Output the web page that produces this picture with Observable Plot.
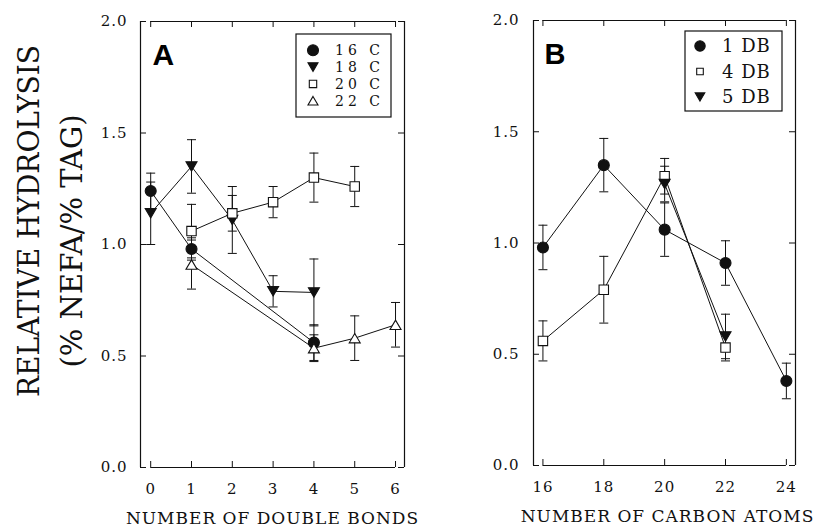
<!DOCTYPE html>
<html><head><meta charset="utf-8">
<script src="https://cdn.jsdelivr.net/npm/d3@7"></script>
<script src="https://cdn.jsdelivr.net/npm/@observablehq/plot@0.6"></script>
<style>
html,body{margin:0;padding:0;background:#fff;}
#wrap{position:relative;width:814px;height:527px;overflow:hidden;background:#fff;}
#wrap > div{position:absolute;top:0;}
</style></head><body>
<div id="wrap"><div id="pa" style="left:0px"></div><div id="pb" style="left:420px"></div></div>
<script>
// ---------- text ----------
const panelLabels = ["A", "B"];
const xTitleA = "NUMBER OF DOUBLE BONDS";
const xTitleB = "NUMBER OF CARBON ATOMS";
const yTitle1 = "RELATIVE HYDROLYSIS";
const yTitle2 = "(% NEFA/% TAG)";

// ---------- ticks ----------
const xTicksA = [0, 1, 2, 3, 4, 5, 6];
const xTicksB = [16, 18, 20, 22, 24];
const yTicks = [0.0, 0.5, 1.0, 1.5, 2.0];

// ---------- panel A: by number of double bonds ----------
const seriesA = ["16 C", "18 C", "20 C", "22 C"];
const c16X = [0, 1, 4];
const c16Y = [1.24, 0.98, 0.56];
const c16E = [0.08, 0.05, 0.08];
const c18X = [0, 1, 2, 3, 4];
const c18Y = [1.14, 1.35, 1.11, 0.79, 0.785];
const c18E = [0.14, 0.12, 0.15, 0.07, 0.15];
const c20X = [1, 2, 3, 4, 5];
const c20Y = [1.06, 1.14, 1.19, 1.30, 1.26];
const c20E = [0.12, 0.08, 0.07, 0.11, 0.09];
const c22X = [1, 4, 5, 6];
const c22Y = [0.91, 0.535, 0.58, 0.64];
const c22E = [0.11, 0.06, 0.10, 0.10];

// ---------- panel B: by number of carbon atoms ----------
const seriesB = ["1 DB", "4 DB", "5 DB"];
const db1X = [16, 18, 20, 22, 24];
const db1Y = [0.98, 1.35, 1.06, 0.91, 0.38];
const db1E = [0.10, 0.12, 0.12, 0.10, 0.08];
const db4X = [16, 18, 20, 22];
const db4Y = [0.56, 0.79, 1.30, 0.53];
const db4E = [0.09, 0.15, 0.08, 0.06];
const db5X = [20, 22];
const db5Y = [1.265, 0.58];
const db5E = [0.08, 0.10];

function rows(s, xs, ys, es) { return xs.map((x, i) => ({s, x, y: ys[i], e: es[i]})); }
const dataA = [
  ...rows(seriesA[0], c16X, c16Y, c16E),
  ...rows(seriesA[1], c18X, c18Y, c18E),
  ...rows(seriesA[2], c20X, c20Y, c20E),
  ...rows(seriesA[3], c22X, c22Y, c22E)
];
const dataB = [
  ...rows(seriesB[0], db1X, db1Y, db1E),
  ...rows(seriesB[1], db4X, db4Y, db4E),
  ...rows(seriesB[2], db5X, db5Y, db5E)
];

// ---------- symbols ----------
const triUp = {draw(ctx, size) { const r = Math.sqrt(size / Math.PI), h = r * 1.7;
  ctx.moveTo(0, -h / 2); ctx.lineTo(r, h / 2); ctx.lineTo(-r, h / 2); ctx.closePath(); }};
const triDown = {draw(ctx, size) { const r = Math.sqrt(size / Math.PI), h = r * 1.7;
  ctx.moveTo(0, h / 2); ctx.lineTo(r, -h / 2); ctx.lineTo(-r, -h / 2); ctx.closePath(); }};
const squareSym = {draw(ctx, size) { const r = Math.sqrt(size / Math.PI);
  ctx.moveTo(-r, -r); ctx.lineTo(r, -r); ctx.lineTo(r, r); ctx.lineTo(-r, r); ctx.closePath(); }};
const capSym = {draw(ctx, size) { const r = Math.sqrt(size / Math.PI);
  ctx.moveTo(-r, 0); ctx.lineTo(r, 0); }};
const circleSym = d3.symbolCircle;

const SERIF = "'DejaVu Serif', serif";

const styleA = {
  "16 C": {sym: circleSym, fill: "#111", r: 5.5, lr: 5.5},
  "18 C": {sym: triDown, fill: "#111", r: 5.5, lr: 5},
  "20 C": {sym: squareSym, fill: "white", r: 4.7, lr: 3.7},
  "22 C": {sym: triUp, fill: "white", r: 5.5, lr: 5}
};
const styleB = {
  "1 DB": {sym: circleSym, fill: "#111", r: 5.5, lr: 5.2},
  "4 DB": {sym: squareSym, fill: "white", r: 4.7, lr: 3.3},
  "5 DB": {sym: triDown, fill: "#111", r: 5.5, lr: 4.8}
};

function panel(o) {
  const H = 527;
  const plotW = o.width - o.mL - o.mR, plotH = H - o.mT - o.mB;
  const xt = o.xTicks, x0 = xt[0], x1 = xt[xt.length - 1];
  const marks = [
    Plot.ruleX([o.xDom[0], o.xDom[1]], {stroke: "#111", strokeWidth: 1.2}),
    Plot.ruleY([yTicks[0], yTicks[yTicks.length - 1]], {x1: () => x0, x2: () => x1, stroke: "#111", strokeWidth: 1.2}),
    Plot.tickX(xt, {x: d => d, insetTop: plotH - 6, stroke: "#111"}),
    Plot.tickX(xt, {x: d => d, insetBottom: plotH - 6, stroke: "#111"}),
    Plot.tickY(yTicks, {y: d => d, insetRight: plotW - 6, stroke: "#111"}),
    Plot.tickY(yTicks, {y: d => d, insetLeft: plotW - 6, stroke: "#111"}),
    Plot.axisX({ticks: xt, tickSize: 0, tickPadding: 16, tickFormat: d => String(d), label: null, fontSize: 15, fontFamily: SERIF}),
    Plot.axisY({ticks: yTicks, tickSize: 0, tickPadding: o.yPad, tickFormat: d3.format(".1f"), label: null, fontSize: 15, fontFamily: SERIF}),
    Plot.ruleX(o.data, {x: "x", y1: d => d.y - d.e, y2: d => d.y + d.e, stroke: "#111", strokeWidth: 1}),
    Plot.dot(o.data, {x: "x", y: d => d.y - d.e, symbol: capSym, r: 4.5, stroke: "#111", fill: "none", strokeWidth: 1}),
    Plot.dot(o.data, {x: "x", y: d => d.y + d.e, symbol: capSym, r: 4.5, stroke: "#111", fill: "none", strokeWidth: 1}),
    Plot.line(o.data, {x: "x", y: "y", z: "s", stroke: "#111", strokeWidth: 1}),
    ...o.series.map(s => Plot.dot(o.data.filter(d => d.s === s), {
      x: "x", y: "y", symbol: o.styles[s].sym, r: o.styles[s].r,
      fill: o.styles[s].fill, stroke: "#111", strokeWidth: 1.1})),
    Plot.text([o.xTitle], {frameAnchor: "bottom", dy: 51, dx: o.titleDx, lineAnchor: "middle", fontSize: 17, fontFamily: SERIF, fill: "#111"}),
    Plot.text([o.label], {frameAnchor: "top-left", dx: o.labelDx, dy: o.labelDy, lineAnchor: "top", textAnchor: "start",
      fontSize: o.labelSize, fontWeight: "bold", fontFamily: "'Liberation Sans', Arial, sans-serif", fill: "#000"})
  ];
  const svg = Plot.plot({
    width: o.width, height: H,
    marginLeft: o.mL, marginRight: o.mR, marginTop: o.mT, marginBottom: o.mB,
    x: {domain: o.xDom, label: null},
    y: {domain: [0, 2], label: null},
    style: {fontFamily: SERIF, fontSize: "15px", color: "#111", background: "white", letterSpacing: "1px", overflow: "visible"},
    marks
  });
  // legend (inside frame, upper right)
  const g = d3.select(svg).append("g").attr("text-anchor", "start").attr("font-family", SERIF);
  const L = o.legend;
  g.append("rect").attr("x", L.x).attr("y", L.y).attr("width", L.w).attr("height", L.h)
    .attr("fill", "white").attr("stroke", "#111").attr("stroke-width", 1.2);
  o.series.forEach((s, i) => {
    const cy = L.row0 + i * L.step, st = o.styles[s];
    g.append("path").attr("d", d3.symbol(st.sym, st.lr * st.lr * Math.PI)())
      .attr("transform", `translate(${L.symX},${cy})`)
      .attr("fill", st.fill).attr("stroke", "#111").attr("stroke-width", 1.1);
    g.append("text").attr("x", L.textX).attr("y", cy).attr("dy", "0.36em")
      .attr("text-anchor", "start")
      .attr("font-size", L.fontSize).attr("letter-spacing", L.ls + "px")
      .attr("fill", "#111").text(s);
  });
  return svg;
}

const svgA = panel({
  width: 420, mL: 140, mR: 16, mT: 21, mB: 60, xDom: [-0.25, 6.22], xTicks: xTicksA,
  data: dataA, series: seriesA, styles: styleA, xTitle: xTitleA, titleDx: 0, yPad: 13,
  label: panelLabels[0], labelDx: 12, labelDy: 22, labelSize: 30,
  legend: {x: 296, y: 34, w: 95, h: 83, row0: 50.3, step: 16.8, symX: 313, textX: 335, fontSize: 14, ls: 4}
});
const svgB = panel({
  width: 394, mL: 113, mR: 19, mT: 20, mB: 62, xDom: [15.69, 24.30], xTicks: xTicksB,
  data: dataB, series: seriesB, styles: styleB, xTitle: xTitleB, titleDx: 3, yPad: 14,
  label: panelLabels[1], labelDx: 11, labelDy: 23, labelSize: 29,
  legend: {x: 265, y: 31, w: 97, h: 80, row0: 46, step: 25.5, symX: 280, textX: 302, fontSize: 18, ls: 1}
});

// y-axis title (two lines, rotated) on the left panel
const ga = d3.select(svgA).append("g").attr("font-family", SERIF).attr("fill", "#111");
[[yTitle1, 29, 221, 352], [yTitle2, 72, 241, 253]].forEach(([t, x, y, len]) => {
  ga.append("text").attr("transform", `translate(${x},${y}) rotate(-90)`)
    .attr("text-anchor", "middle").attr("dy", "0.36em").attr("font-size", 29)
    .attr("letter-spacing", "0px")
    .attr("textLength", len).attr("lengthAdjust", "spacingAndGlyphs").text(t);
});

document.getElementById("pa").appendChild(svgA);
document.getElementById("pb").appendChild(svgB);
</script>
</body></html>
